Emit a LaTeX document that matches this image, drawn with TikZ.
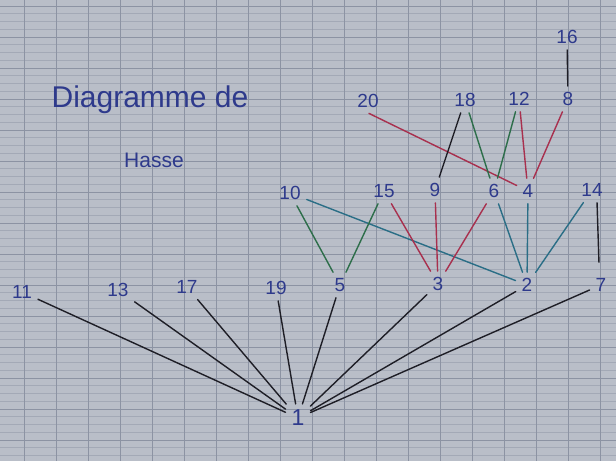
\documentclass[tikz,border=0pt]{standalone}
\usepackage{fontspec}
\setmainfont{Liberation Sans}
\definecolor{paper}{HTML}{B9BEC8}
\definecolor{gridline}{HTML}{8C93A3}
\definecolor{gridlight}{HTML}{A3A9B6}
\definecolor{inkblue}{HTML}{2E3A8C}
\definecolor{inkblack}{HTML}{1E1E26}
\definecolor{inkred}{HTML}{A8304E}
\definecolor{inkgreen}{HTML}{2D6E4A}
\definecolor{inkteal}{HTML}{2A6E86}
\begin{document}
\begin{tikzpicture}[x=1pt,y=-1pt,
  num/.style={text=inkblue, font=\fontsize{19}{19}\selectfont, inner sep=5pt},
  edge/.style={line width=1.4pt, line cap=round, shorten <=1pt, shorten >=1pt},
  eblack/.style={edge, draw=inkblack},
  ered/.style={edge, draw=inkred},
  egreen/.style={edge, draw=inkgreen},
  eteal/.style={edge, draw=inkteal}]
\fill[paper] (0,0) rectangle (616,461);
\useasboundingbox (0,0) rectangle (616,461);
% grid paper
\foreach \i in {0,...,59}{
  \pgfmathtruncatemacro{\m}{mod(\i,4)}
  \ifnum\m=0
    \draw[gridline, line width=0.9pt] (0,{6+7.75*\i}) -- (616,{6+7.75*\i});
  \else
    \draw[gridlight, line width=0.6pt] (0,{6+7.75*\i}) -- (616,{6+7.75*\i});
  \fi
}
\foreach \k in {0,...,18}{
  \draw[gridline, line width=0.9pt] ({24+32*\k},0) -- ({24+32*\k},461);
}
% title
\node[text=inkblue, font=\fontsize{30}{30}\selectfont] (title1) at (150,100) {Diagramme de};
\node[text=inkblue, font=\fontsize{21}{21}\selectfont] (title2) at (154,160) {Hasse};
% nodes
\node[num] (n16) at (567,37) {16};
\node[num] (n20) at (368,101) {20};
\node[num] (n18) at (465,100) {18};
\node[num] (n12) at (519,99) {12};
\node[num] (n8) at (568,99) {8};
\node[num] (n10) at (290,193) {10};
\node[num] (n15) at (384,191) {15};
\node[num] (n9) at (435,190) {9};
\node[num] (n6) at (494,191) {6};
\node[num] (n4) at (528,191) {4};
\node[num] (n14) at (592,190) {14};
\node[num] (n11) at (22,292) {11};
\node[num] (n13) at (118,290) {13};
\node[num] (n17) at (187,287) {17};
\node[num] (n19) at (276,288) {19};
\node[num] (n5) at (340,285) {5};
\node[num] (n3) at (438,284) {3};
\node[num] (n2) at (527,285) {2};
\node[num] (n7) at (601,285) {7};
\node[num, font=\fontsize{23}{23}\selectfont] (n1) at (298,418) {1};
% edges
\draw[eblack] (n16) -- (n8);
\draw[ered] (n20.south) -- (n4);
\draw[eblack] (n18) -- (n9);
\draw[egreen] (n18) -- (n6);
\draw[egreen] (n12) -- (n6);
\draw[ered] (n12) -- (n4);
\draw[ered] (n8) -- (n4);
\draw[egreen] (n10) -- (n5);
\draw[eteal] (n10) -- (n2);
\draw[egreen] (n15) -- (n5);
\draw[ered] (n15) -- (n3);
\draw[ered] (n9) -- (n3);
\draw[ered] (n6) -- (n3);
\draw[eteal] (n6) -- (n2);
\draw[eteal] (n4) -- (n2);
\draw[eteal] (n14) -- (n2);
\draw[eblack] ([xshift=5pt]n14.south) -- ([xshift=-2pt,yshift=10pt]n7.north);
\foreach \a in {n11,n13,n17,n19,n5,n3,n2,n7}{
  \draw[eblack] (\a) -- (n1);
}
\end{tikzpicture}
\end{document}
